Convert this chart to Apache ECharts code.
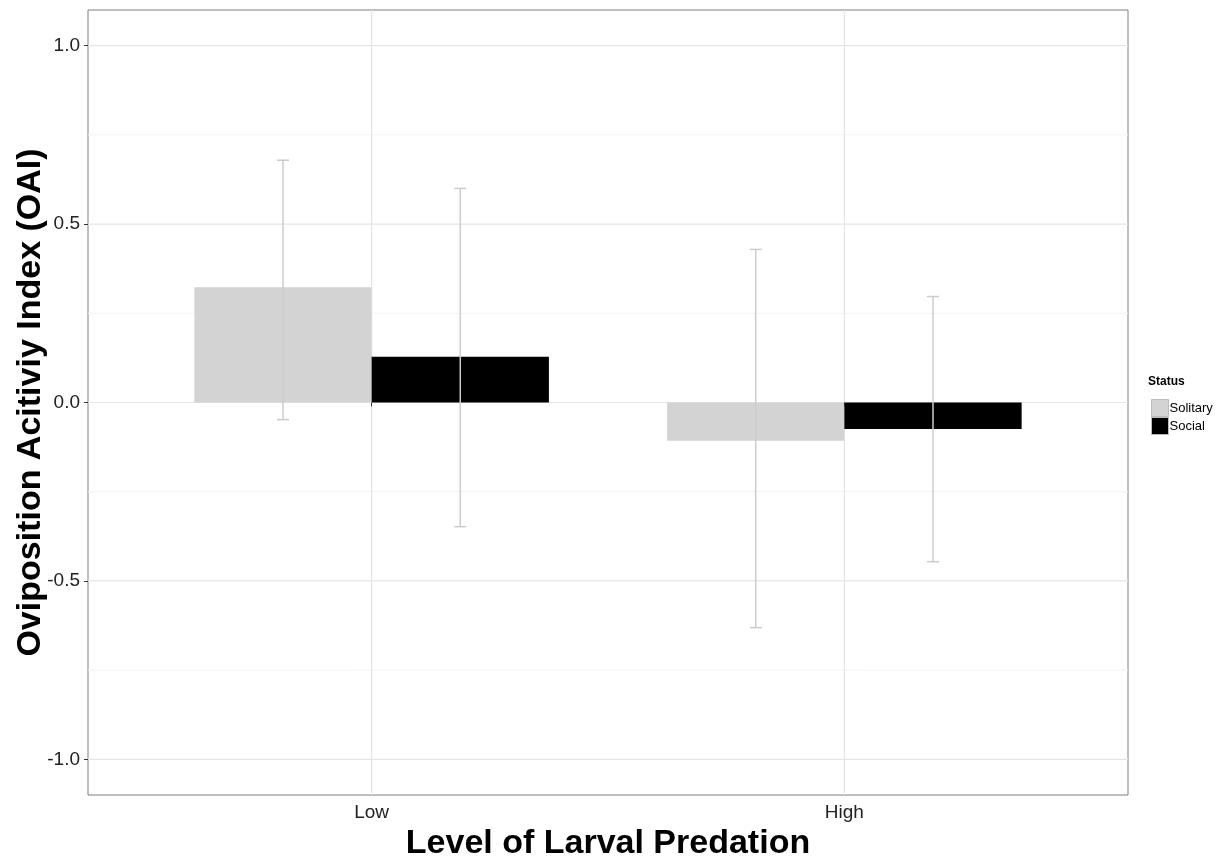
<!DOCTYPE html>
<html>
<head>
<meta charset="utf-8">
<script src="https://cdn.jsdelivr.net/npm/echarts@6/dist/echarts.min.js"></script>
<style>html,body{margin:0;padding:0;background:#fff}#c{width:1221px;height:859px}</style>
</head>
<body>
<div id="c"></div>
<script>
const categories = ['Low', 'High'];
const groups = ['Solitary', 'Social'];
const solitaryMean = [0.323, -0.107];
const socialMean = [0.128, -0.074];
const solitaryUpper = [0.679, 0.429];
const solitaryLower = [-0.048, -0.631];
const socialUpper = [0.600, 0.297];
const socialLower = [-0.348, -0.446];
const yTicks = [-1.0, -0.5, 0.0, 0.5, 1.0];
const yMinor = [-0.75, -0.25, 0.25, 0.75];

const colors = {Solitary: '#d3d3d3', Social: '#000000'};
const dodge = 0.375;

function barData(means, gi) {
  return means.map((v, i) => [i + 1 + (gi - 0.5) * dodge, v]);
}
function errData(lo, hi, gi) {
  return lo.map((v, i) => [i + 1 + (gi - 0.5) * dodge, v, hi[i]]);
}

const renderBar = (color) => function (params, api) {
  const x = api.value(0), y = api.value(1);
  const p0 = api.coord([x - dodge / 2, y]);
  const p1 = api.coord([x + dodge / 2, 0]);
  return {
    type: 'rect',
    shape: {x: p0[0], y: Math.min(p0[1], p1[1]), width: p1[0] - p0[0], height: Math.abs(p1[1] - p0[1])},
    style: {fill: color}
  };
};
const renderErr = function (params, api) {
  const x = api.value(0);
  const lo = api.coord([x, api.value(1)]);
  const hi = api.coord([x, api.value(2)]);
  const half = 6;
  const st = {stroke: '#cccccc', lineWidth: 1.5};
  return {
    type: 'group',
    children: [
      {type: 'line', shape: {x1: lo[0], y1: lo[1], x2: hi[0], y2: hi[1]}, style: st},
      {type: 'line', shape: {x1: lo[0] - half, y1: lo[1], x2: lo[0] + half, y2: lo[1]}, style: st},
      {type: 'line', shape: {x1: hi[0] - half, y1: hi[1], x2: hi[0] + half, y2: hi[1]}, style: st}
    ]
  };
};
// grid lines: [kind, value] kind 0 = horizontal major, 1 = horizontal minor, 2 = vertical major
const gridData = [
  ...yMinor.map(v => [1, v]),
  ...yTicks.map(v => [0, v]),
  ...categories.map((c, i) => [2, i + 1])
];
const renderGrid = function (params, api) {
  const cs = params.coordSys;
  const kind = api.value(0), v = api.value(1);
  if (kind === 2) {
    const p = api.coord([v, 0]);
    return {type: 'line', shape: {x1: p[0], y1: cs.y, x2: p[0], y2: cs.y + cs.height}, style: {stroke: '#e5e5e5', lineWidth: 1.2}};
  }
  const p = api.coord([1, v]);
  return {type: 'line', shape: {x1: cs.x, y1: p[1], x2: cs.x + cs.width, y2: p[1]},
    style: {stroke: kind === 0 ? '#e5e5e5' : '#f3f3f3', lineWidth: kind === 0 ? 1.2 : 1}};
};

const chart = echarts.init(document.getElementById('c'), null, {renderer: 'canvas'});
const font = 'Arial, "Liberation Sans", sans-serif';

chart.setOption({
  animation: false,
  backgroundColor: '#ffffff',
  grid: {left: 88, right: 93, top: 10, bottom: 64, containLabel: false, outerBoundsMode: 'none',
    show: true, borderColor: '#7f7f7f', borderWidth: 1, backgroundColor: 'transparent'},
  xAxis: {
    type: 'value', min: 0.4, max: 2.6,
    name: 'Level of Larval Predation', nameLocation: 'middle', nameGap: 32,
    nameTextStyle: {fontFamily: font, fontWeight: 'bold', fontSize: 34, color: '#000'},
    axisLine: {show: false},
    splitLine: {show: false},
    axisTick: {show: true, length: 4, lineStyle: {color: '#333'}, customValues: [1, 2]},
    axisLabel: {customValues: [1, 2], formatter: v => categories[Math.round(v) - 1], fontFamily: font, fontSize: 19, color: '#222', margin: 8}
  },
  yAxis: {
    type: 'value', min: -1.1, max: 1.1,
    name: 'Oviposition Acitiviy Index (OAI)', nameLocation: 'middle', nameGap: 40, nameMoveOverlap: false,
    nameTextStyle: {fontFamily: font, fontWeight: 'bold', fontSize: 34, color: '#000'},
    axisLine: {show: false},
    splitLine: {show: false},
    axisTick: {show: true, length: 4, lineStyle: {color: '#333'}, customValues: yTicks},
    axisLabel: {customValues: yTicks, formatter: v => v.toFixed(1), fontFamily: font, fontSize: 19, color: '#222', margin: 8}
  },
  legend: {
    left: 1146, top: 394, orient: 'vertical', itemGap: 0, itemWidth: 17, itemHeight: 17,
    textStyle: {fontFamily: font, fontSize: 13, color: '#000', padding: [0, 0, 0, -4]},
    data: groups.map(g => ({name: g, icon: 'rect', itemStyle: {color: colors[g], borderColor: '#bbbbbb', borderWidth: 1}}))
  },
  graphic: [{type: 'text', left: 1148, top: 376, style: {text: 'Status', font: 'bold 12px ' + font, fill: '#000'}}],
  series: [
    {type: 'custom', renderItem: renderGrid, data: gridData, z: 0, silent: true, encode: {x: -1, y: -1}},
    {name: 'Solitary', type: 'custom', renderItem: renderBar(colors.Solitary), data: barData(solitaryMean, 0), itemStyle: {color: colors.Solitary}, z: 2, encode: {x: 0, y: 1}},
    {name: 'Social', type: 'custom', renderItem: renderBar(colors.Social), data: barData(socialMean, 1), itemStyle: {color: colors.Social}, z: 2, encode: {x: 0, y: 1}},
    {type: 'custom', renderItem: renderErr, data: errData(solitaryLower, solitaryUpper, 0), z: 3, encode: {x: 0, y: [1, 2]}},
    {type: 'custom', renderItem: renderErr, data: errData(socialLower, socialUpper, 1), z: 3, encode: {x: 0, y: [1, 2]}}
  ]
});
</script>
</body>
</html>
